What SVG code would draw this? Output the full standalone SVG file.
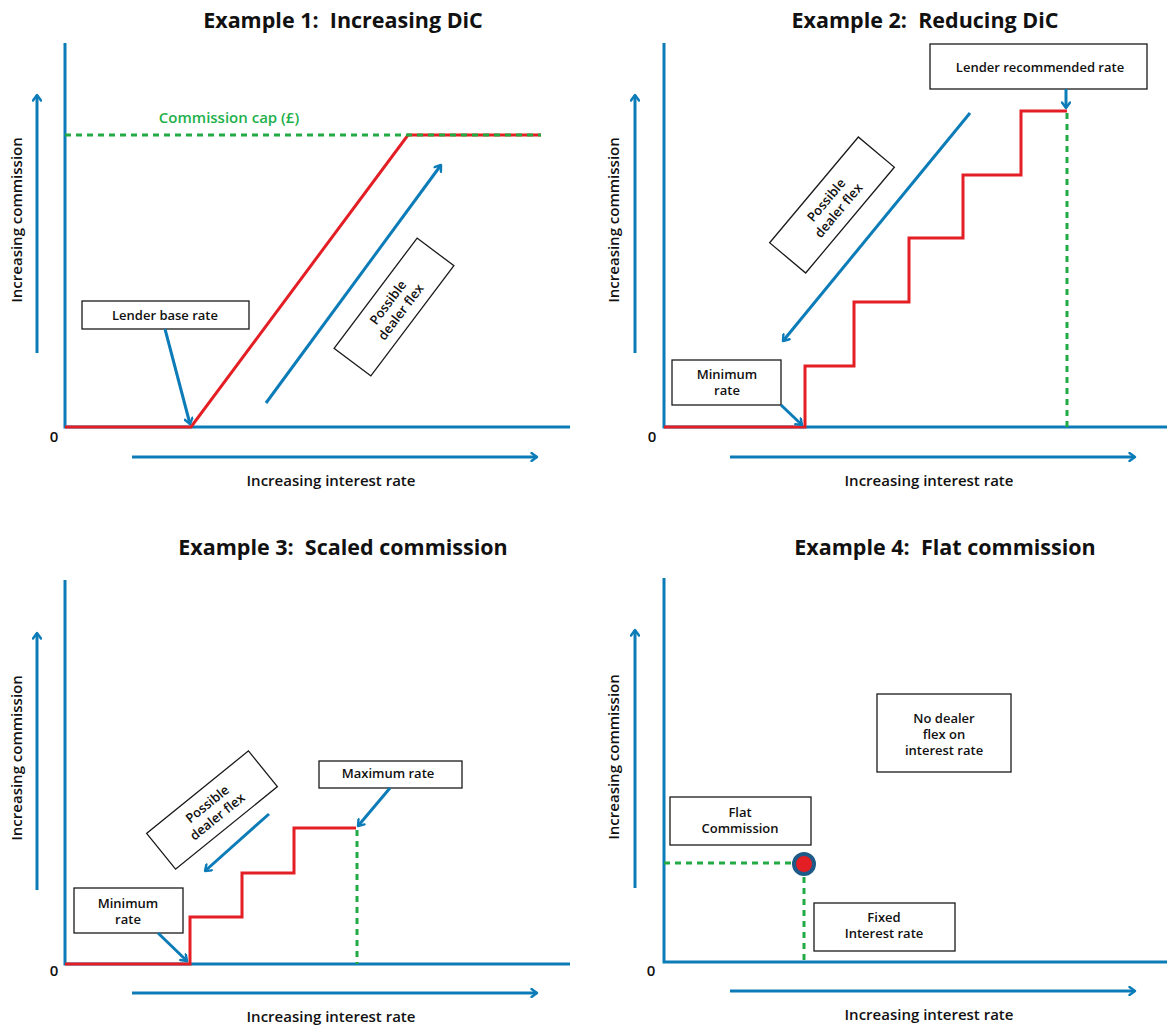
<svg xmlns="http://www.w3.org/2000/svg" width="1169" height="1026" viewBox="0 0 1169 1026">
<style>
  text { font-family: "Open Sans", "Noto Sans", "Liberation Sans", sans-serif; fill: #111; }
  .title { font-size: 21.5px; font-weight: 700; text-anchor: middle; white-space: pre; }
  .axl { font-size: 15px; font-weight: 600; text-anchor: middle; }
  .lbl { font-size: 13px; font-weight: 600; text-anchor: middle; }
  .cap { font-size: 15px; font-weight: 600; fill: #1db04b; text-anchor: middle; }
  .axis { stroke: #0c7cb8; stroke-width: 3; fill: none; }
  .arr { stroke: #0c7cb8; stroke-width: 3; fill: none; marker-end: url(#ah); }
  .red { stroke: #e31e24; stroke-width: 3; fill: none; }
  .dash { stroke: #22aa44; stroke-width: 3; fill: none; stroke-dasharray: 6 5; }
  .box { fill: #fff; stroke: #1a1a1a; stroke-width: 1.3; }
</style>
<defs>
  <marker id="ah" viewBox="0 0 10 10" refX="8" refY="5" markerWidth="10" markerHeight="10" markerUnits="userSpaceOnUse" orient="auto">
    <path d="M2.5,1 L8,5 L2.5,9" fill="none" stroke="#0c7cb8" stroke-width="2.4" stroke-linecap="round" stroke-linejoin="round"/>
  </marker>
</defs>
<rect width="1169" height="1026" fill="#fff"/>

<!-- Panel 1 -->
<g id="panel1">
  <text class="title" x="343" y="28" xml:space="preserve">Example 1:  Increasing DiC</text>
  <path class="axis" d="M65,43 V427 H570"/>
  <path class="red" d="M65,427 H191 L408,135 H541"/>
  <path class="dash" d="M65,135 H541"/>
  <text class="cap" x="229" y="123">Commission cap (£)</text>
  <text class="axl" transform="translate(22,220) rotate(-90)">Increasing commission</text>
  <text class="axl" x="331" y="486">Increasing interest rate</text>
  <text class="axl" x="54" y="442">0</text>
  <g id="p1-base">
    <rect class="box" x="82" y="301" width="167" height="28"/>
    <text class="lbl" x="165" y="319.5">Lender base rate</text>
  </g>
  <g id="p1-flex" transform="translate(394,307) rotate(-53)">
    <rect class="box" x="-69" y="-23" width="138" height="46"/>
    <text class="lbl" x="0" y="-3">Possible</text>
    <text class="lbl" x="0" y="13">dealer flex</text>
  </g>
</g>

<!-- Panel 2 -->
<g id="panel2">
  <text class="title" x="925" y="28" xml:space="preserve">Example 2:  Reducing DiC</text>
  <path class="axis" d="M664,43 V427 H1167"/>
  <path class="red" d="M664,427 H805 V366 H854 V302 H909 V238 H963 V175 H1021 V111 H1067"/>
  <path class="dash" d="M1067,113 V427"/>
  <text class="axl" transform="translate(619,220) rotate(-90)">Increasing commission</text>
  <text class="axl" x="929" y="486">Increasing interest rate</text>
  <text class="axl" x="652" y="442">0</text>
  <g id="p2-rec">
    <rect class="box" x="930" y="44" width="217" height="45"/>
    <text class="lbl" x="1040" y="71.5">Lender recommended rate</text>
  </g>
  <g id="p2-min">
    <rect class="box" x="672" y="360" width="109" height="45"/>
    <text class="lbl" x="727" y="378.5">Minimum</text>
    <text class="lbl" x="727" y="394.5">rate</text>
  </g>
  <g id="p2-flex" transform="translate(832,205) rotate(-50)">
    <rect class="box" x="-69" y="-23.5" width="138" height="47"/>
    <text class="lbl" x="0" y="-3">Possible</text>
    <text class="lbl" x="0" y="13">dealer flex</text>
  </g>
</g>

<!-- Panel 3 -->
<g id="panel3">
  <text class="title" x="343" y="555" xml:space="preserve">Example 3:  Scaled commission</text>
  <path class="axis" d="M65,580 V964 H570"/>
  <path class="red" d="M65,964 H190 V917 H242 V873 H294 V828 H356"/>
  <path class="dash" d="M357,830 V964"/>
  <text class="axl" transform="translate(22,758) rotate(-90)">Increasing commission</text>
  <text class="axl" x="331" y="1022">Increasing interest rate</text>
  <text class="axl" x="54" y="976">0</text>
  <g id="p3-min">
    <rect class="box" x="74" y="888" width="109" height="45"/>
    <text class="lbl" x="128" y="907.5">Minimum</text>
    <text class="lbl" x="128" y="923.5">rate</text>
  </g>
  <g id="p3-max">
    <rect class="box" x="319" y="761" width="143" height="27"/>
    <text class="lbl" x="388" y="777.5">Maximum rate</text>
  </g>
  <g id="p3-flex" transform="translate(212,810) rotate(-39)">
    <rect class="box" x="-65.5" y="-23" width="131" height="46"/>
    <text class="lbl" x="0" y="-3">Possible</text>
    <text class="lbl" x="0" y="13">dealer flex</text>
  </g>
</g>

<!-- Panel 4 -->
<g id="panel4">
  <text class="title" x="945" y="555" xml:space="preserve">Example 4:  Flat commission</text>
  <path class="axis" d="M664,578 V962 H1167"/>
  <path class="dash" d="M664,863 H793"/>
  <path class="dash" d="M804,877 V962"/>
  <text class="axl" transform="translate(619,757) rotate(-90)">Increasing commission</text>
  <text class="axl" x="929" y="1020">Increasing interest rate</text>
  <text class="axl" x="651" y="976">0</text>
  <g id="p4-point">
    <circle cx="804" cy="864" r="10" fill="#e31e24" stroke="#1d5a87" stroke-width="4"/>
  </g>
  <g id="p4-noflex">
    <rect class="box" x="877" y="694" width="134" height="78"/>
    <text class="lbl" x="944" y="722.5">No dealer</text>
    <text class="lbl" x="944" y="738.5">flex on</text>
    <text class="lbl" x="944" y="754.5">interest rate</text>
  </g>
  <g id="p4-flat">
    <rect class="box" x="670" y="797" width="141" height="48"/>
    <text class="lbl" x="740" y="816.5">Flat</text>
    <text class="lbl" x="740" y="832.5">Commission</text>
  </g>
  <g id="p4-fixed">
    <rect class="box" x="814" y="903" width="141" height="48"/>
    <text class="lbl" x="884" y="921.5">Fixed</text>
    <text class="lbl" x="884" y="937.5">Interest rate</text>
  </g>
</g>

<!-- Connectors -->
<g id="connectors">
  <path class="arr" d="M37,353 V95"/>
  <path class="arr" d="M132,457 H537"/>
  <path class="arr" d="M165,329 L190,424"/>
  <path class="arr" d="M266,403 L441,165"/>

  <path class="arr" d="M635,353 V95"/>
  <path class="arr" d="M730,457 H1135"/>
  <path class="arr" d="M1066,89 V108"/>
  <path class="arr" d="M781,405 L802,425"/>
  <path class="arr" d="M970,113 L783,341"/>

  <path class="arr" d="M37,890 V633"/>
  <path class="arr" d="M132,993 H537"/>
  <path class="arr" d="M158,933 L187,961"/>
  <path class="arr" d="M390,788 L358,826"/>
  <path class="arr" d="M269,814 L205,871"/>

  <path class="arr" d="M635,888 V630"/>
  <path class="arr" d="M730,991 H1135"/>
</g>
</svg>
